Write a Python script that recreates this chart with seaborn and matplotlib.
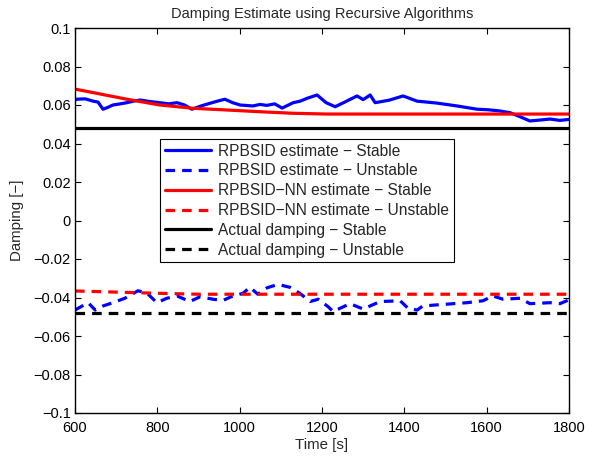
import seaborn as sns
import matplotlib.pyplot as plt

# RPBSID estimate - stable case
blue_stable_t = [600, 604, 625, 644, 656, 668, 680, 692, 710, 726, 742, 758, 782, 806, 827,
                 848, 866, 884, 906, 928, 946, 964, 983, 1001, 1032, 1049, 1066, 1085, 1103,
                 1130, 1147, 1164, 1188, 1210, 1232, 1258, 1285, 1300, 1317, 1329, 1363,
                 1397, 1431, 1479, 1528, 1577, 1605, 1632, 1657, 1680, 1705, 1730, 1754,
                 1778, 1800]
blue_stable_v = [0.0625, 0.063, 0.0632, 0.062, 0.0615, 0.0578, 0.0588, 0.060, 0.0606, 0.0612,
                 0.0620, 0.0626, 0.0618, 0.0612, 0.0606, 0.0612, 0.0600, 0.0578, 0.0595,
                 0.0609, 0.0620, 0.063, 0.0612, 0.060, 0.0595, 0.0603, 0.0598, 0.0606,
                 0.0584, 0.0612, 0.0620, 0.0635, 0.0652, 0.0612, 0.0591, 0.0618, 0.0647,
                 0.0628, 0.0652, 0.0612, 0.0625, 0.0647, 0.062, 0.061, 0.0595, 0.0578,
                 0.0575, 0.0569, 0.056, 0.0540, 0.0517, 0.0522, 0.0527, 0.052, 0.0525]

# RPBSID estimate - unstable case
blue_unstable_t = [600, 632, 649, 668, 692, 721, 753, 775, 799, 823, 848, 879, 904, 935,
                   960, 977, 1008, 1025, 1044, 1066, 1093, 1122, 1146, 1171, 1191, 1215,
                   1227, 1268, 1300, 1341, 1390, 1409, 1431, 1445, 1494, 1552, 1591, 1615,
                   1640, 1681, 1705, 1754, 1778, 1800]
blue_unstable_v = [-0.0465, -0.0427, -0.0465, -0.0444, -0.0427, -0.0404, -0.0365, -0.0378,
                   -0.0427, -0.0404, -0.0392, -0.0421, -0.0396, -0.0409, -0.0415, -0.0398,
                   -0.0378, -0.0347, -0.0383, -0.035, -0.0332, -0.0347, -0.0378, -0.0421,
                   -0.0409, -0.0448, -0.0473, -0.0432, -0.046, -0.0421, -0.0417, -0.0456,
                   -0.0465, -0.0444, -0.0436, -0.0427, -0.0417, -0.0392, -0.0409, -0.0404,
                   -0.0432, -0.0427, -0.0432, -0.0412]

# RPBSID-NN estimate
red_stable_t = [600, 604, 726, 806, 886, 969, 1049, 1130, 1212, 1400, 1600, 1800]
red_stable_v = [0.0683, 0.0681, 0.063, 0.060, 0.0583, 0.0574, 0.0565, 0.0557, 0.0553, 0.0553,
                0.0553, 0.0553]
red_unstable_t = [600, 700, 800, 900, 1000, 1200, 1400, 1600, 1800]
red_unstable_v = [-0.0366, -0.0372, -0.0378, -0.0383, -0.0383, -0.0383, -0.0383, -0.0383,
                  -0.0383]

# actual damping
actual_t = [600, 1800]
actual_stable = [0.048, 0.048]
actual_unstable = [-0.048, -0.048]

sns.set_theme(style="ticks")
plt.rcParams['font.family'] = ['Liberation Sans', 'DejaVu Sans']

fig = plt.figure(figsize=(5.89, 4.57), dpi=100)
ax = fig.add_axes([75 / 589, 44 / 457, 494 / 589, 385 / 457])

lw = 2.3
dash = (0, (3, 2.2))
sns.lineplot(x=blue_stable_t, y=blue_stable_v, ax=ax, color='#0000ff', lw=lw,
             label='RPBSID estimate \u2212 Stable')
sns.lineplot(x=blue_unstable_t, y=blue_unstable_v, ax=ax, color='#0000ff', lw=lw,
             linestyle=dash, label='RPBSID estimate \u2212 Unstable')
sns.lineplot(x=red_stable_t, y=red_stable_v, ax=ax, color='#ff0000', lw=lw,
             label='RPBSID\u2212NN estimate \u2212 Stable')
sns.lineplot(x=red_unstable_t, y=red_unstable_v, ax=ax, color='#ff0000', lw=lw,
             linestyle=dash, label='RPBSID\u2212NN estimate \u2212 Unstable')
sns.lineplot(x=actual_t, y=actual_stable, ax=ax, color='black', lw=lw,
             label='Actual damping \u2212 Stable')
sns.lineplot(x=actual_t, y=actual_unstable, ax=ax, color='black', lw=lw,
             linestyle=dash, label='Actual damping \u2212 Unstable')

ax.set_xlim(600, 1800)
ax.set_ylim(-0.1, 0.1)
ax.set_xticks([600, 800, 1000, 1200, 1400, 1600, 1800])
ax.set_yticks([-0.1, -0.08, -0.06, -0.04, -0.02, 0, 0.02, 0.04, 0.06, 0.08, 0.1])
ax.set_yticklabels(['\u22120.1', '\u22120.08', '\u22120.06', '\u22120.04', '\u22120.02', '0',
                    '0.02', '0.04', '0.06', '0.08', '0.1'])
ax.tick_params(direction='in', top=True, right=True, labelsize=10.5, length=4, width=0.8,
               colors='black')
ax.tick_params(axis='x', pad=6)
ax.tick_params(axis='y', pad=3)
for s in ax.spines.values():
    s.set_color('black')
    s.set_linewidth(1.0)

ax.set_xlabel('Time [s]', fontsize=10.8, labelpad=2)
ax.set_ylabel('Damping [\u2212]', fontsize=10.8, labelpad=7)
ax.set_title('Damping Estimate using Recursive Algorithms', fontsize=10.5, pad=7)

leg = ax.legend(loc='upper left', bbox_to_anchor=(0.172, 0.712), fontsize=11.2,
                frameon=True, fancybox=False, edgecolor='black', framealpha=1,
                borderpad=0.3, labelspacing=0.31, handlelength=3.0, handletextpad=0.45,
                borderaxespad=0)
leg.get_frame().set_linewidth(0.8)

fig.savefig('out.png', dpi=100)
